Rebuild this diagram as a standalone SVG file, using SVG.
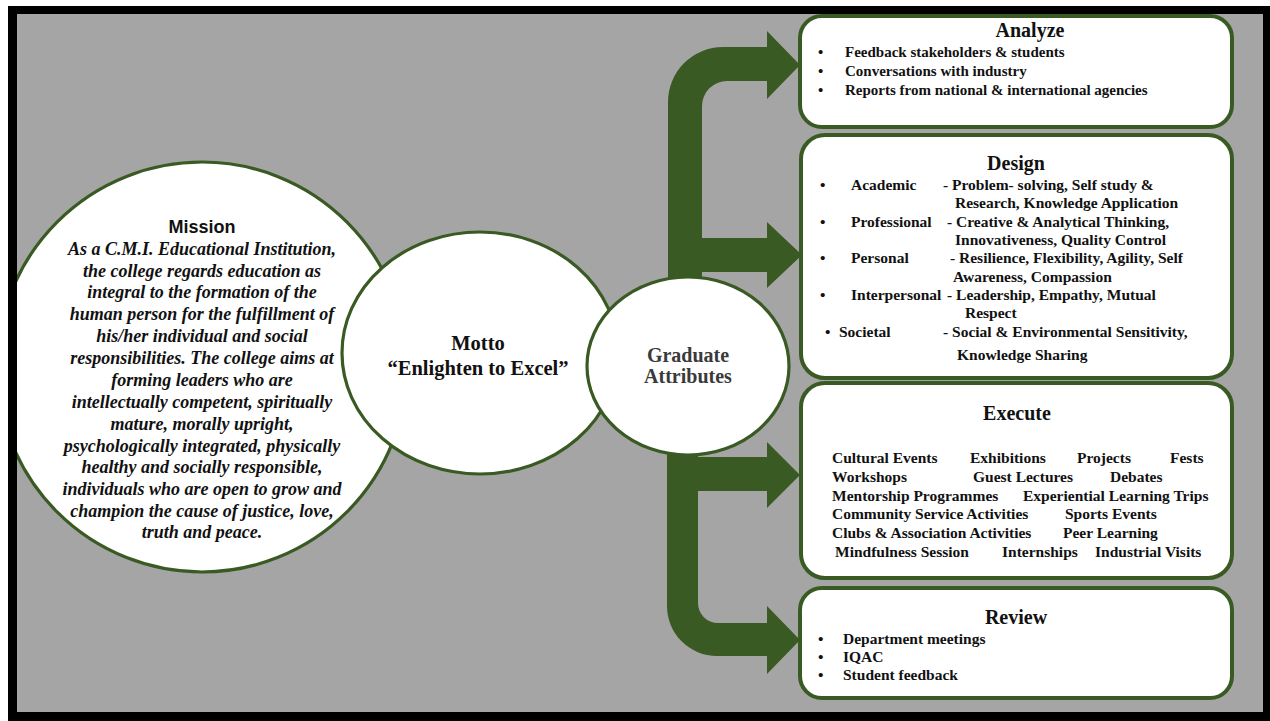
<svg xmlns="http://www.w3.org/2000/svg" width="1270" height="721" viewBox="0 0 1270 721">
<style>
.node{fill:#ffffff;stroke:#3a5a24;stroke-width:3.2}
.box{fill:#ffffff;stroke:#3a5a24;stroke-width:4}
.arrow{fill:#3a5a24;stroke:none}
.ser{font-family:"Liberation Serif","Times New Roman",serif;font-weight:bold;fill:#111111}
.title{font-size:20px}
.item{font-size:15.5px}
.small{font-size:15px}
.mis{font-family:"Liberation Serif","Times New Roman",serif;font-weight:bold;font-style:italic;font-size:18px;fill:#111111}
.mist{font-family:"Liberation Sans",Arial,sans-serif;font-weight:bold;font-size:18px;fill:#111111}
.big{font-size:20.5px}
.grad{font-size:20px;fill:#3a3a3a}
</style>
<defs>
<clipPath id="panel"><rect x="17" y="14" width="1246" height="698"/></clipPath>
</defs>
<rect x="0" y="0" width="1270" height="721" fill="#ffffff"/>
<rect x="17" y="14" width="1246" height="698" fill="#a5a5a5"/>

<g id="mission" clip-path="url(#panel)">
<circle class="node" cx="202" cy="367" r="205"/>
<text class="mist" x="202" y="233" text-anchor="middle">Mission</text>
<g class="mis" text-anchor="middle">
<text x="202" y="255">As a C.M.I. Educational Institution,</text>
<text x="202" y="277">the college regards education as</text>
<text x="202" y="298">integral to the formation of the</text>
<text x="202" y="320">human person for the fulfillment of</text>
<text x="202" y="342">his/her individual and social</text>
<text x="202" y="364">responsibilities. The college aims at</text>
<text x="202" y="386">forming leaders who are</text>
<text x="202" y="408">intellectually competent, spiritually</text>
<text x="202" y="430">mature, morally upright,</text>
<text x="202" y="452">psychologically integrated, physically</text>
<text x="202" y="473">healthy and socially responsible,</text>
<text x="202" y="495">individuals who are open to grow and</text>
<text x="202" y="517">champion the cause of justice, love,</text>
<text x="202" y="538">truth and peace.</text>
</g>
</g>

<g id="motto">
<ellipse class="node" cx="480" cy="353" rx="138" ry="121"/>
<text class="ser big" x="478" y="350" text-anchor="middle">Motto</text>
<text class="ser big" x="478" y="375" text-anchor="middle">“Enlighten to Excel”</text>
</g>

<g id="connectors">
<path class="arrow" d="M668,300 L668,102 A55,55 0 0 1 723,47 L767,47 L767,31 L800,65 L767,99 L767,81 L727,81 A25,25 0 0 0 702,106 L702,238 L767,238 L767,222 L802,255 L767,288 L767,272 L702,272 L702,300 Z"/>
<path class="arrow" d="M667,430 L698,430 L698,457 L767,457 L767,442 L800,475 L767,508 L767,491 L698,491 L698,603 A20,20 0 0 0 718,623 L767,623 L767,606 L800,640 L767,674 L767,656 L717,656 A50,50 0 0 1 667,606 Z"/>
</g>

<g id="graduate">
<ellipse class="node" cx="688" cy="366" rx="101" ry="89"/>
<text class="ser grad" x="688" y="362" text-anchor="middle">Graduate</text>
<text class="ser grad" x="688" y="383" text-anchor="middle">Attributes</text>
</g>

<g id="analyze">
<rect class="box" x="800" y="16" width="432" height="111" rx="22"/>
<text class="ser title" x="1030" y="37" text-anchor="middle">Analyze</text>
<g class="ser small">
<text x="818" y="57">•</text><text x="845" y="57">Feedback stakeholders &amp; students</text>
<text x="818" y="76">•</text><text x="845" y="76">Conversations with industry</text>
<text x="818" y="95">•</text><text x="845" y="95">Reports from national &amp; international agencies</text>
</g>
</g>

<g id="design">
<rect class="box" x="801" y="135" width="431" height="243" rx="24"/>
<text class="ser title" x="1016" y="170" text-anchor="middle">Design</text>
<g class="ser item">
<text x="820" y="190">•</text><text x="851" y="190">Academic</text><text x="943" y="190">- Problem- solving, Self study &amp;</text>
<text x="955" y="208">Research, Knowledge Application</text>
<text x="820" y="227">•</text><text x="851" y="227">Professional</text><text x="947" y="227">- Creative &amp; Analytical Thinking,</text>
<text x="955" y="245">Innovativeness, Quality Control</text>
<text x="820" y="263">•</text><text x="851" y="263">Personal</text><text x="950" y="263">- Resilience, Flexibility, Agility, Self</text>
<text x="953" y="282">Awareness, Compassion</text>
<text x="820" y="300">•</text><text x="851" y="300">Interpersonal</text><text x="947" y="300">- Leadership, Empathy, Mutual</text>
<text x="965" y="318">Respect</text>
<text x="825" y="337">•</text><text x="839" y="337">Societal</text><text x="943" y="337">- Social &amp; Environmental Sensitivity,</text>
<text x="957" y="360">Knowledge Sharing</text>
</g>
</g>

<g id="execute">
<rect class="box" x="801" y="383" width="431" height="195" rx="24"/>
<text class="ser title" x="1017" y="420" text-anchor="middle">Execute</text>
<g class="ser item">
<text x="832" y="463">Cultural Events</text><text x="970" y="463">Exhibitions</text><text x="1077" y="463">Projects</text><text x="1170" y="463">Fests</text>
<text x="832" y="482">Workshops</text><text x="973" y="482">Guest Lectures</text><text x="1110" y="482">Debates</text>
<text x="832" y="501">Mentorship Programmes</text><text x="1023" y="501">Experiential Learning Trips</text>
<text x="832" y="519">Community Service Activities</text><text x="1065" y="519">Sports Events</text>
<text x="832" y="538">Clubs &amp; Association Activities</text><text x="1063" y="538">Peer Learning</text>
<text x="835" y="557">Mindfulness Session</text><text x="1002" y="557">Internships</text><text x="1095" y="557">Industrial Visits</text>
</g>
</g>

<g id="review">
<rect class="box" x="800" y="588" width="432" height="110" rx="22"/>
<text class="ser title" x="1016" y="624" text-anchor="middle">Review</text>
<g class="ser item">
<text x="818" y="644">•</text><text x="843" y="644">Department meetings</text>
<text x="818" y="662">•</text><text x="843" y="662">IQAC</text>
<text x="818" y="680">•</text><text x="843" y="680">Student feedback</text>
</g>
</g>

<path d="M8,6 H1270 V721 H8 Z M17,14 V712 H1263 V14 Z" fill="#000000" fill-rule="evenodd"/>
</svg>
